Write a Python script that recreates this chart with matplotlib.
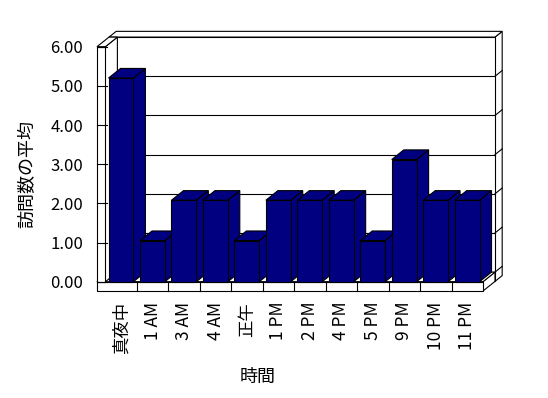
import matplotlib.pyplot as plt
from matplotlib.patches import Polygon

plt.rcParams['font.family'] = ['Noto Sans CJK JP', 'DejaVu Sans']

hours = ['真夜中', '1 AM', '3 AM', '4 AM', '正午', '1 PM', '2 PM', '4 PM',
         '5 PM', '9 PM', '10 PM', '11 PM']
visits = [5.2, 1.05, 2.08, 2.08, 1.05, 2.08, 2.08, 2.08, 1.05, 3.12, 2.08, 2.08]
y_ticks = [0, 1, 2, 3, 4, 5, 6]

# oblique "3d" look: one depth step in data units
ddx, ddy = 0.381, 0.245
wall = 0.267      # left wall thickness (category units)
floor_h = 0.237   # floor thickness (value units)
navy = '#000080'

fig = plt.figure(figsize=(5.48, 3.98), dpi=100)
ax = fig.add_axes([105.4 / 548, 1 - 281.7 / 398, 377.6 / 548, 235 / 398])
n = len(hours)
ax.set_xlim(-0.5, n - 0.5)
ax.set_ylim(0, 6)


def proj(x, y, d):
    return (x + d * ddx, y + d * ddy)


def box(x0, x1, y0, y1, d0, d1, fc, z):
    front = [proj(x0, y0, d0), proj(x1, y0, d0), proj(x1, y1, d0), proj(x0, y1, d0)]
    top = [proj(x0, y1, d0), proj(x1, y1, d0), proj(x1, y1, d1), proj(x0, y1, d1)]
    side = [proj(x1, y0, d0), proj(x1, y0, d1), proj(x1, y1, d1), proj(x1, y1, d0)]
    for pts in (side, top, front):
        ax.add_patch(Polygon(pts, closed=True, fc=fc, ec='black', lw=0.8,
                             clip_on=False, zorder=z))


def line(p, q, z):
    ax.plot([p[0], q[0]], [p[1], q[1]], color='black', lw=0.8,
            clip_on=False, zorder=z)


x_left, x_right = -0.5, n - 0.5

# back wall
box(x_left - wall, x_right, -floor_h, 6, 1, 1.6, 'white', 1)
for v in y_ticks[:-1]:
    line(proj(x_left, v, 1), proj(x_right, v, 1), 1)
    line(proj(x_right, v, 1), proj(x_right, v, 1.6), 1)

# floor
box(x_left - wall, x_right, -floor_h, 0, 0, 1, 'white', 2)
for i in range(n - 1):
    line(proj(i + 0.5, -floor_h, 0), proj(i + 0.5, 0, 0), 2)

# left wall
box(x_left - wall, x_left, 0, 6, 0, 1, 'white', 2)
for v in y_ticks:
    line(proj(x_left - wall, v, 0), proj(x_left + 0.05, v, 0), 2)

# bars
for i, v in enumerate(visits):
    box(i - 0.4, i + 0.39, 0, v, 0, 1, navy, 3)

ax.set_yticks(y_ticks, labels=[f'{v:.2f}' for v in y_ticks])
ax.set_xticks(range(n), labels=hours, rotation=90)
ax.tick_params(axis='y', length=0, pad=16, labelsize=12)
ax.tick_params(axis='x', length=0, pad=14.5, labelsize=12.5)
for s in ax.spines.values():
    s.set_visible(False)
ax.patch.set_visible(False)

ax.set_ylabel('訪問数の平均', fontsize=13)
ax.yaxis.set_label_coords(-0.182, 0.458)
ax.set_xlabel('時間', fontsize=13)
ax.xaxis.set_label_coords(0.404, -0.367)

fig.savefig('out.png', dpi=100)
